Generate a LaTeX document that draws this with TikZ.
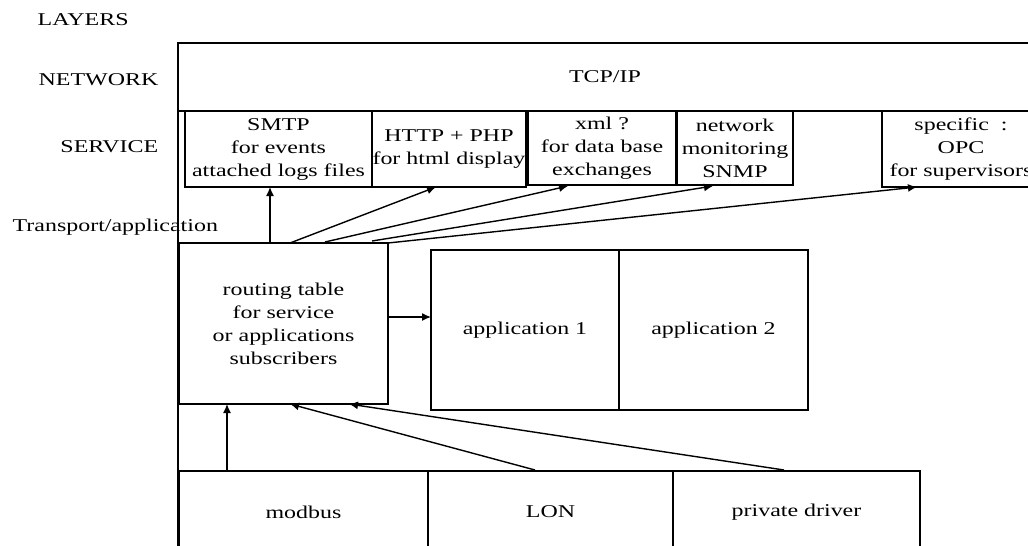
\documentclass[tikz,border=0pt]{standalone}
\usepackage{fontspec}
\setmainfont[FakeStretch=1.33]{Liberation Serif}
\usetikzlibrary{arrows.meta,positioning,calc}

\tikzset{
  layer/.style={draw, align=center, inner sep=0pt, outer sep=0pt, anchor=north west},
  tag/.style={inner sep=0pt},
  link/.style={-{Latex[length=4.5pt,width=4pt]}},
}

\begin{document}
\begin{tikzpicture}[x=0.5pt, y=-0.5pt, line width=0.7pt, font=\fontsize{9}{11.5}\selectfont]
  \useasboundingbox (0,0) rectangle (1028,546);
  \clip (0,0) rectangle (1028,546);

  % layer names on the left
  \node[tag, anchor=west] (layers) at (37,20) {LAYERS};
  \node[tag, anchor=east] (lnet) at (159,80) {NETWORK};
  \node[tag, anchor=east] (lserv) at (159,147) {SERVICE};
  \node[tag, anchor=west] (ltrans) at (12,227) {Transport/application};

  % network layer, with the frame going down
  \node[layer, minimum width=427pt, minimum height=34pt] (net) at (178,43) {TCP/IP};
  \draw (net.north west) -- ++(0,530);

  % service layer
  \node[layer, minimum width=93.5pt, minimum height=38pt] (smtp) at (185,111) {SMTP\\for events\\attached logs files};
  \node[layer, minimum width=77pt, minimum height=38pt, right=0pt of smtp] (http) {HTTP + PHP\\for html display};
  \node[layer, minimum width=74pt, minimum height=37pt] (xml) at (528,111) {xml ?\\for data base\\exchanges};
  \node[layer, minimum width=58pt, minimum height=37pt] (snmp) at (677,111) {network\\monitoring\\SNMP};
  \node[layer, minimum width=79pt, minimum height=38pt] (opc) at (882,111) {specific \ :\\OPC\\for supervisors};

  % transport / application
  \node[layer, minimum width=104.5pt, minimum height=80.5pt] (route) at (179,243) {routing table\\for service\\or applications\\subscribers};
  \node[layer, minimum width=94pt, minimum height=80pt] (app1) at (431,250) {application 1};
  \node[layer, minimum width=94.5pt, minimum height=80pt, right=0pt of app1] (app2) {application 2};

  % drivers
  \node[layer, minimum width=124.5pt, minimum height=41pt] (modbus) at (179,471) {modbus};
  \node[layer, minimum width=122.5pt, minimum height=41pt, right=0pt of modbus] (lon) {LON};
  \node[layer, minimum width=123.5pt, minimum height=41pt, right=0pt of lon] (priv) {private driver};

  % routing to services
  \draw[link] ($(route.north west)+(91,0)$) -- ($(smtp.south west)+(85,0)$);
  \draw[link] ($(route.north west)+(111,0)$) -- ($(http.south west)+(64,0)$);
  \draw[link] ($(route.north west)+(146,-1)$) -- ($(xml.south west)+(40,1)$);
  \draw[link] ($(route.north west)+(193,-2)$) -- ($(snmp.south west)+(36,1)$);
  \draw[link] (route.north east) -- ($(opc.south west)+(35,0)$);
  \draw[link] ($(route.north east)+(0,74)$) -- ($(app1.north west)+(0,67)$);

  % drivers to routing
  \draw[link] ($(modbus.north west)+(48,0)$) -- ($(route.south west)+(48,0)$);
  \draw[link] ($(lon.north west)+(107,-1)$) -- ($(route.south west)+(111,0)$);
  \draw[link] ($(priv.north west)+(111,-1)$) -- ($(route.south west)+(170,0)$);
\end{tikzpicture}
\end{document}
